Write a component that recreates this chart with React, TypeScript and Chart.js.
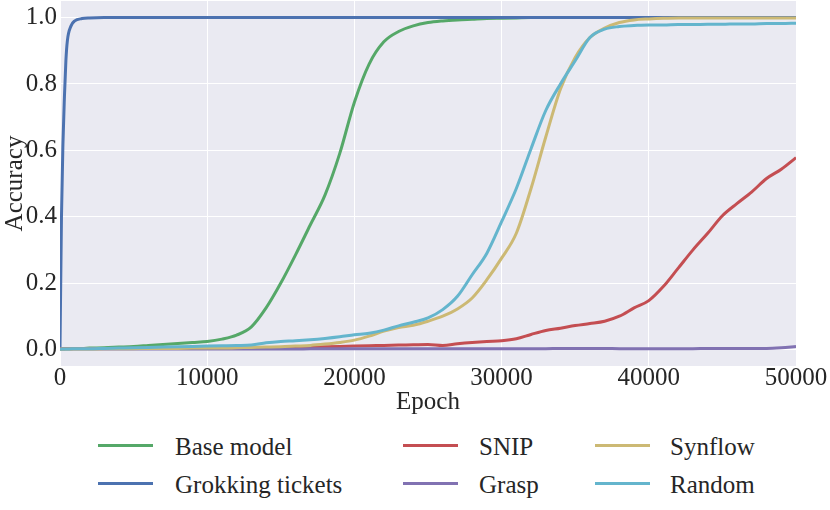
import { useEffect, useRef } from "react";
import { Chart, registerables } from "chart.js";

Chart.register(...registerables);

const epochs = [
  0, 100, 200, 300, 400, 500, 750, 1000, 1500, 2000,
  3000, 4000, 5000, 6000, 7000, 8000, 9000, 10000, 11000, 12000,
  13000, 14000, 15000, 16000, 17000, 18000, 19000, 20000, 21000, 22000,
  23000, 24000, 25000, 26000, 27000, 28000, 29000, 30000, 31000, 32000,
  33000, 34000, 35000, 36000, 37000, 38000, 39000, 40000, 41000, 42000,
  43000, 44000, 45000, 46000, 47000, 48000, 49000, 50000,
];

const baseModel = [
  0, 0.001, 0.001, 0.001, 0.002, 0.002, 0.002, 0.003, 0.003, 0.004,
  0.005, 0.007, 0.009, 0.012, 0.015, 0.018, 0.021, 0.024, 0.031, 0.043,
  0.068, 0.125, 0.2, 0.285, 0.375, 0.465, 0.59, 0.745, 0.86, 0.927,
  0.958, 0.975, 0.985, 0.99, 0.993, 0.995, 0.997, 0.998, 0.999, 1.0,
  1.0, 1.0, 1.0, 1.0, 1.0, 1.0, 1.0, 1.0, 1.0, 1.0,
  1.0, 1.0, 1.0, 1.0, 1.0, 1.0, 1.0, 1.0,
];

const grokkingTickets = [
  0, 0.4, 0.62, 0.76, 0.87, 0.93, 0.975, 0.99, 0.997, 0.999,
  1.0, 1.0, 1.0, 1.0, 1.0, 1.0, 1.0, 1.0, 1.0, 1.0,
  1.0, 1.0, 1.0, 1.0, 1.0, 1.0, 1.0, 1.0, 1.0, 1.0,
  1.0, 1.0, 1.0, 1.0, 1.0, 1.0, 1.0, 1.0, 1.0, 1.0,
  1.0, 1.0, 1.0, 1.0, 1.0, 1.0, 1.0, 1.0, 1.0, 1.0,
  1.0, 1.0, 1.0, 1.0, 1.0, 1.0, 1.0, 1.0,
];

const snip = [
  0.003, 0.003, 0.003, 0.003, 0.003, 0.003, 0.003, 0.003, 0.003, 0.003,
  0.003, 0.003, 0.003, 0.003, 0.003, 0.003, 0.003, 0.003, 0.003, 0.003,
  0.004, 0.004, 0.005, 0.006, 0.007, 0.008, 0.009, 0.01, 0.011, 0.012,
  0.013, 0.014, 0.015, 0.012, 0.017, 0.021, 0.024, 0.026, 0.032, 0.045,
  0.057, 0.064, 0.072, 0.078, 0.085, 0.1, 0.125, 0.147, 0.19, 0.245,
  0.3, 0.35, 0.403, 0.44, 0.475, 0.515, 0.543, 0.578,
];

const grasp = [
  0, 0.001, 0.001, 0.001, 0.001, 0.001, 0.001, 0.001, 0.001, 0.001,
  0.001, 0.001, 0.001, 0.001, 0.001, 0.001, 0.001, 0.001, 0.001, 0.001,
  0.001, 0.001, 0.001, 0.001, 0.002, 0.002, 0.002, 0.002, 0.002, 0.002,
  0.002, 0.002, 0.002, 0.002, 0.002, 0.002, 0.002, 0.002, 0.002, 0.002,
  0.002, 0.003, 0.003, 0.003, 0.003, 0.002, 0.002, 0.002, 0.002, 0.002,
  0.002, 0.003, 0.003, 0.003, 0.003, 0.003, 0.005, 0.009,
];

const synflow = [
  0, 0.001, 0.001, 0.001, 0.001, 0.001, 0.001, 0.001, 0.001, 0.001,
  0.002, 0.002, 0.002, 0.003, 0.003, 0.003, 0.004, 0.004, 0.004, 0.005,
  0.006, 0.007, 0.008, 0.01, 0.012, 0.016, 0.021, 0.028, 0.04, 0.055,
  0.066, 0.073, 0.085, 0.1, 0.122, 0.155, 0.21, 0.275, 0.35, 0.485,
  0.64, 0.785, 0.88, 0.94, 0.968, 0.985, 0.993, 0.996, 0.998, 0.999,
  0.999, 0.999, 0.999, 0.999, 0.999, 0.999, 0.999, 0.999,
];

const random = [
  0, 0.001, 0.001, 0.001, 0.001, 0.001, 0.002, 0.002, 0.002, 0.002,
  0.003, 0.004, 0.005, 0.006, 0.007, 0.008, 0.009, 0.01, 0.011, 0.012,
  0.013, 0.02, 0.024, 0.026, 0.029, 0.033, 0.038, 0.044, 0.049, 0.058,
  0.071, 0.082, 0.095, 0.12, 0.16, 0.225, 0.29, 0.385, 0.485, 0.605,
  0.72, 0.8, 0.87, 0.94, 0.965, 0.973, 0.976, 0.978, 0.978, 0.979,
  0.979, 0.98, 0.98, 0.981, 0.981, 0.982, 0.982, 0.983,
];

const xTicks = [0, 10000, 20000, 30000, 40000, 50000];
const yTicks = [0, 0.2, 0.4, 0.6, 0.8, 1.0];

const series = [
  { label: "Base model", data: baseModel, color: "#55A868", order: 6 },
  { label: "Grokking tickets", data: grokkingTickets, color: "#4C72B0", order: 5 },
  { label: "SNIP", data: snip, color: "#C44E52", order: 4 },
  { label: "Grasp", data: grasp, color: "#8172B2", order: 3 },
  { label: "Synflow", data: synflow, color: "#CCB974", order: 2 },
  { label: "Random", data: random, color: "#64B5CD", order: 1 },
];

const FONT = '"Liberation Serif", "Times New Roman", Times, serif';
const TEXT = "#262626";

export default function App() {
  const ref = useRef<HTMLCanvasElement>(null);

  useEffect(() => {
    if (!ref.current) return;
    const bg = {
      id: "plotBg",
      beforeDraw(chart: any) {
        const { ctx, chartArea } = chart;
        ctx.save();
        ctx.fillStyle = "#EAEAF2";
        ctx.fillRect(chartArea.left, chartArea.top, chartArea.right - chartArea.left, chartArea.bottom - chartArea.top);
        ctx.restore();
      },
    };
    const chart = new Chart(ref.current, {
      type: "line",
      data: {
        datasets: series.map((s) => ({
          label: s.label,
          data: epochs.map((e, i) => ({ x: e, y: s.data[i] })),
          borderColor: s.color,
          backgroundColor: s.color,
          borderWidth: 3,
          pointRadius: 0,
          fill: false,
          order: s.order,
          cubicInterpolationMode: "monotone" as const,
        })),
      },
      options: {
        animation: false,
        responsive: false,
        layout: { padding: { left: 0, right: 34, top: 1, bottom: 0 } },
        plugins: { legend: { display: false }, tooltip: { enabled: false } },
        scales: {
          x: {
            type: "linear",
            min: 0,
            max: 50000,
            afterBuildTicks: (a: any) => {
              a.ticks = xTicks.map((v) => ({ value: v }));
            },
            afterFit: (s: any) => {
              s.height = 54;
              s.paddingLeft = 0;
              s.paddingRight = 0;
            },
            grid: { color: "#ffffff", lineWidth: 1, drawTicks: false },
            border: { display: false },
            ticks: {
              font: { family: FONT, size: 25, lineHeight: 1 },
              color: TEXT,
              padding: 0,
              maxRotation: 0,
              autoSkip: false,
              callback: (v: any) => String(v),
            },
            title: {
              display: true,
              text: "Epoch",
              font: { family: FONT, size: 25, lineHeight: 1.2 },
              color: TEXT,
              padding: { top: 0, bottom: 3 },
            },
          },
          y: {
            type: "linear",
            min: -0.05,
            max: 1.05,
            afterBuildTicks: (a: any) => {
              a.ticks = yTicks.map((v) => ({ value: v }));
            },
            afterFit: (s: any) => {
              s.width = 60;
              s.paddingTop = 0;
              s.paddingBottom = 0;
            },
            grid: { color: "#ffffff", lineWidth: 1, drawTicks: false },
            border: { display: false },
            ticks: {
              font: { family: FONT, size: 25, lineHeight: 1 },
              color: TEXT,
              padding: 3,
              callback: (v: any) => Number(v).toFixed(1),
            },
            title: {
              display: true,
              text: "Accuracy",
              font: { family: FONT, size: 25, lineHeight: 1.2 },
              color: TEXT,
              padding: { top: 0, bottom: 0 },
            },
          },
        },
      } as any,
      plugins: [bg],
    });
    return () => chart.destroy();
  }, []);

  const lineX = [98, 403, 595];
  const textX = [175, 479, 670];
  const rowY = [445, 483];

  return (
    <div style={{ position: "absolute", left: 0, top: 0, width: 830, height: 510, background: "#ffffff", overflow: "hidden" }}>
      <canvas ref={ref} width={830} height={420} style={{ position: "absolute", left: 0, top: 0, width: 830, height: 420 }} />
      {series.map((s, i) => {
        const col = Math.floor(i / 2);
        const row = i % 2;
        return (
          <div key={s.label}>
            <div
              style={{
                position: "absolute",
                left: lineX[col],
                top: rowY[row] - 1.5,
                width: 55,
                height: 3,
                background: s.color,
              }}
            />
            <div
              style={{
                position: "absolute",
                left: textX[col],
                top: rowY[row] + 2 - 15,
                height: 30,
                lineHeight: "30px",
                fontFamily: FONT,
                fontSize: 25,
                color: TEXT,
                whiteSpace: "nowrap",
              }}
            >
              {s.label}
            </div>
          </div>
        );
      })}
    </div>
  );
}
